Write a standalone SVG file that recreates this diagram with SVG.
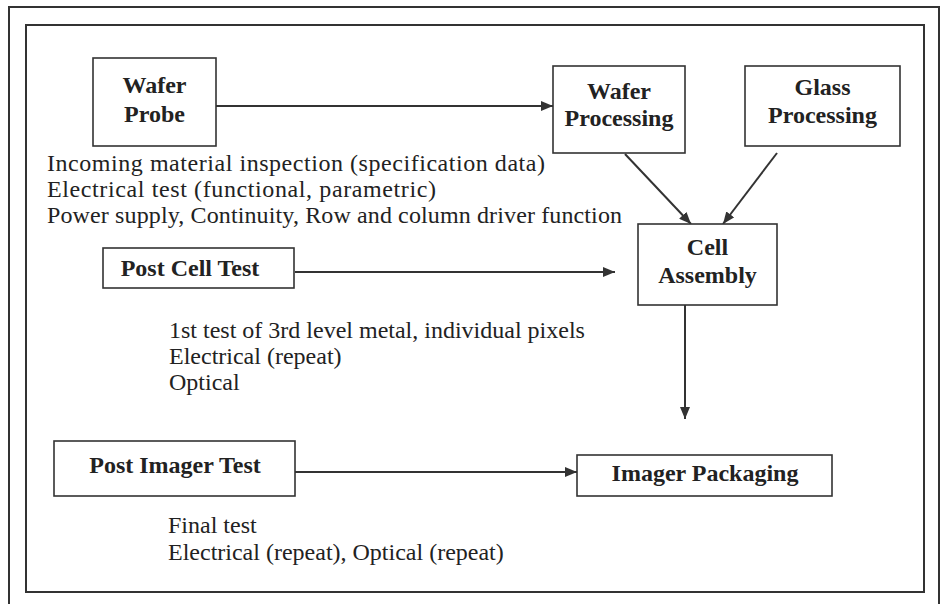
<svg xmlns="http://www.w3.org/2000/svg" width="942" height="604" viewBox="0 0 942 604">
<defs>
<marker id="ah" viewBox="0 0 12 10" refX="12" refY="5" markerWidth="12" markerHeight="10" markerUnits="userSpaceOnUse" orient="auto">
<path d="M0,0 L12,5 L0,10 z" fill="#333"/>
</marker>
</defs>
<style>
.frame{fill:none;stroke:#333;stroke-width:2}
.box{fill:#fff;stroke:#333;stroke-width:1.6}
.lbl{font-family:"Liberation Serif","Times New Roman",serif;font-weight:bold;font-size:24px;fill:#222;text-anchor:middle}
.note{font-family:"Liberation Serif","Times New Roman",serif;font-size:24px;fill:#222}
.conn{stroke:#333;stroke-width:2;fill:none;marker-end:url(#ah)}
</style>
<rect width="942" height="604" fill="#fff"/>
<path class="frame" d="M9,604 V7 H939 V604" stroke-width="1.5"/>
<rect class="frame" x="26" y="25" width="898" height="567"/>

<g id="connectors">
<line class="conn" x1="216" y1="106" x2="553" y2="106"/>
<line class="conn" x1="625" y1="154" x2="691" y2="224"/>
<line class="conn" x1="777" y1="153" x2="723" y2="224"/>
<line class="conn" x1="295" y1="272" x2="615" y2="272"/>
<line class="conn" x1="685" y1="305" x2="685" y2="419"/>
<line class="conn" x1="295" y1="472" x2="577" y2="472" stroke-width="1.5"/>
</g>

<g id="wafer-probe">
<rect class="box" x="93" y="58" width="123" height="88"/>
<text class="lbl" x="154.5" y="93">Wafer</text>
<text class="lbl" x="154.5" y="122">Probe</text>
</g>
<g id="wafer-probe-notes">
<text class="note" x="47" y="171" textLength="498" lengthAdjust="spacing">Incoming material inspection (specification data)</text>
<text class="note" x="47" y="197" textLength="389" lengthAdjust="spacing">Electrical test (functional, parametric)</text>
<text class="note" x="47" y="223" textLength="575" lengthAdjust="spacing">Power supply, Continuity, Row and column driver function</text>
</g>
<g id="wafer-processing">
<rect class="box" x="553" y="66" width="132" height="87"/>
<text class="lbl" x="619" y="99">Wafer</text>
<text class="lbl" x="619" y="126">Processing</text>
</g>
<g id="glass-processing">
<rect class="box" x="745" y="66" width="155" height="80"/>
<text class="lbl" x="822.5" y="95">Glass</text>
<text class="lbl" x="822.5" y="123">Processing</text>
</g>
<g id="cell-assembly">
<rect class="box" x="638" y="224" width="139" height="81"/>
<text class="lbl" x="707.5" y="255">Cell</text>
<text class="lbl" x="707.5" y="283">Assembly</text>
</g>
<g id="post-cell-test">
<rect class="box" x="103" y="248" width="191" height="40"/>
<text class="lbl" x="190" y="276">Post Cell Test</text>
</g>
<g id="post-cell-notes">
<text class="note" x="169" y="338">1st test of 3rd level metal, individual pixels</text>
<text class="note" x="169" y="364">Electrical (repeat)</text>
<text class="note" x="169" y="390">Optical</text>
</g>
<g id="post-imager-test">
<rect class="box" x="54" y="441" width="241" height="55"/>
<text class="lbl" x="175" y="473">Post Imager Test</text>
</g>
<g id="imager-packaging">
<rect class="box" x="577" y="455" width="255" height="41"/>
<text class="lbl" x="705" y="481">Imager Packaging</text>
</g>
<g id="post-imager-notes">
<text class="note" x="168" y="533">Final test</text>
<text class="note" x="168" y="560">Electrical (repeat), Optical (repeat)</text>
</g>
</svg>
